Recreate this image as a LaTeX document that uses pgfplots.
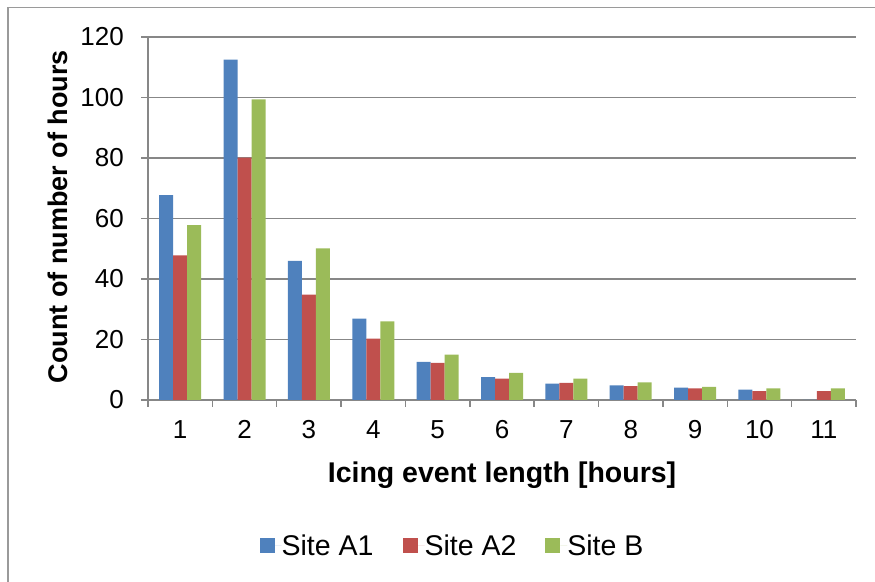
\documentclass[border=0pt]{standalone}
\usepackage{fontspec}
\setmainfont{Liberation Sans}
\usepackage{pgfplots}
\pgfplotsset{compat=1.18}

\definecolor{siteAone}{HTML}{4F81BD}
\definecolor{siteAtwo}{HTML}{C0504D}
\definecolor{siteB}{HTML}{9BBB59}
\definecolor{axisgray}{HTML}{878787}
\definecolor{framegray}{HTML}{9A9A9A}

\newcommand{\tickfont}{\fontsize{26bp}{31bp}\selectfont}
\newcommand{\labelfont}{\fontsize{28.5bp}{34bp}\selectfont}
\newcommand{\ylabelfont}{\fontsize{27bp}{32bp}\selectfont}

\begin{document}
\begin{tikzpicture}[x=1bp,y=1bp]
  \useasboundingbox (0,0) rectangle (875,582);
  % chart frame (left and top edges)
  \draw[framegray, line width=1.5bp] (8,0) -- (8,574.5) -- (875,574.5);

  \begin{axis}[
    at={(148bp,182bp)}, anchor=south west,
    scale only axis,
    width=708bp, height=363bp,
    ybar=0pt, bar width=14bp,
    xmin=0.5, xmax=11.5,
    ymin=0, ymax=120,
    xtick={1,...,11},
    minor xtick={0.5,1.5,...,11.5},
    ytick={0,20,...,120},
    major x tick style={draw=none},
    tick align=outside,
    major tick length=7bp,
    minor tick length=7bp,
    every tick/.style={axisgray, line width=1.5bp},
    axis x line*=bottom,
    axis y line*=left,
    axis line style={axisgray, line width=1.8bp, -},
    ymajorgrids,
    major grid style={axisgray, line width=1.3bp},
    /pgf/number format/assume math mode=true,
    tick label style={font=\tickfont, black},
    xticklabel style={anchor=base, yshift=-32bp},
    yticklabel style={anchor=east, inner sep=0pt, xshift=-17bp},
    xlabel={\bfseries Icing event length [hours]},
    ylabel={\bfseries Count of number of hours},
    xlabel style={font=\labelfont, at={(axis description cs:0.5,-0.2259)}, anchor=base},
    ylabel style={font=\ylabelfont, at={(axis description cs:-0.1144,0.505)}, anchor=base},
    legend style={
      at={(0.4287,-0.4008)}, anchor=center,
      draw=none, fill=none,
      legend columns=3,
      font=\labelfont,
      /tikz/every even column/.append style={column sep=29bp},
      nodes={inner sep=0pt},
    },
    legend image code/.code={
      \fill[#1] (0bp,-7.5bp) rectangle (15bp,7.5bp);
      \path (15bp,0bp) -- (22bp,0bp);
    },
    clip=false,
  ]
    \addplot[fill=siteAone, draw=none] coordinates {
      (1,67.7) (2,112.5) (3,46.0) (4,26.9) (5,12.6) (6,7.6)
      (7,5.4) (8,4.8) (9,4.1) (10,3.4) (11,0)
    };
    \addplot[fill=siteAtwo, draw=none] coordinates {
      (1,47.8) (2,80.1) (3,34.8) (4,20.3) (5,12.3) (6,7.1)
      (7,5.7) (8,4.6) (9,3.8) (10,2.9) (11,2.9)
    };
    \addplot[fill=siteB, draw=none] coordinates {
      (1,57.8) (2,99.4) (3,50.1) (4,26.0) (5,15.0) (6,9.0)
      (7,7.1) (8,5.8) (9,4.3) (10,3.8) (11,3.8)
    };
    \legend{Site A1, Site A2, Site B}
  \end{axis}
\end{tikzpicture}
\end{document}
